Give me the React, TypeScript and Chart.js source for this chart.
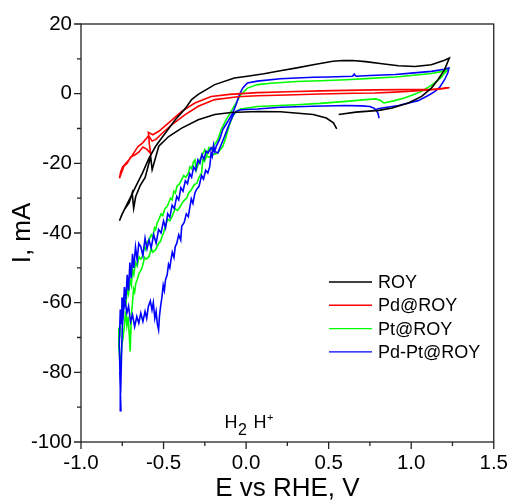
import React, { useEffect, useRef } from "react";
import { Chart, registerables } from "chart.js";
Chart.register(...registerables);

const FONT = "'Liberation Sans', Arial, sans-serif";

const seriesNames = ["ROY", "Pd@ROY", "Pt@ROY", "Pd-Pt@ROY"];
const seriesColors = ["#000000", "#ff0000", "#00ff00", "#0000ff"];

const xTickValues = [-1.0, -0.5, 0.0, 0.5, 1.0, 1.5];
const yTickValues = [-100, -80, -60, -40, -20, 0, 20];

const royE = [0.561, 0.665, 0.804, 0.884, 0.983, 1.063, 1.122, 1.162, 1.202, 1.231,
  1.202, 1.122, 1.023, 0.923, 0.824, 0.724, 0.645, 0.585, 0.526, 0.406, 0.307, 0.207, 0.108, 0.008,
  -0.071, -0.19, -0.29, -0.33, -0.369, -0.429, -0.489, -0.548, -0.588, -0.628, -0.668, -0.708, -0.748, -0.767,
  -0.755, -0.737, -0.708, -0.69, -0.681, -0.669, -0.642, -0.612, -0.578, -0.569, -0.529, -0.469, -0.39,
  -0.29, -0.19, -0.091, 0.068, 0.207, 0.406, 0.486, 0.529, 0.549];
const royI = [-6.0, -5.3, -4.8, -4.1, -2.7, -0.8, 1.6, 4.0, 6.9, 10.2,
  9.6, 8.3, 7.8, 8.0, 8.6, 9.2, 9.5, 9.5, 9.3, 8.3, 7.4, 6.6, 5.7, 5.0,
  4.5, 2.6, -0.2, -1.7, -4.3, -7.5, -11.3, -15.1, -18.5, -22.8, -26.6, -30.5, -34.3, -36.5,
  -35.0, -33.3, -31.3, -28.5, -32.9, -29.6, -26.4, -24.1, -18.1, -21.8, -15.1, -12.3, -9.9,
  -7.5, -6.0, -5.4, -5.1, -5.2, -6.0, -7.0, -8.4, -10.1];

const pdE = [1.231, 1.11, 0.95, 0.78, 0.6, 0.45, 0.25, 0.068, -0.1, -0.211, -0.31, -0.39, -0.469, -0.529,
  -0.565, -0.592, -0.586, -0.578, -0.6, -0.625, -0.65, -0.675, -0.7, -0.72, -0.74, -0.755, -0.767,
  -0.76, -0.748, -0.727, -0.7, -0.68, -0.655, -0.63, -0.61, -0.59, -0.57, -0.548, -0.5, -0.449, -0.369,
  -0.29, -0.19, -0.05, 0.068, 0.25, 0.45, 0.65, 0.78, 0.9, 1.0, 1.11, 1.18, 1.231];
const pdI = [1.7, 1.2, 1.15, 1.1, 0.95, 0.8, 0.55, 0.3, -0.2, -0.8, -2.7, -5.1, -8.4, -10.8,
  -11.8, -11.1, -14.5, -17.2, -16.0, -15.3, -16.8, -17.6, -18.2, -20.0, -20.8, -22.8, -24.3,
  -22.5, -21.0, -19.9, -18.5, -17.0, -15.2, -14.3, -13.2, -12.0, -13.6, -13.2, -11.0, -8.9, -6.0,
  -3.6, -1.7, -0.9, -0.6, -0.4, -0.1, 0.1, 0.2, 0.45, 0.7, 1.1, 1.35, 1.7];

const ptE = [0.834, 0.9, 0.963, 1.02, 1.063, 1.11, 1.142, 1.18, 1.202, 1.222,
  1.19, 1.122, 1.0, 0.903, 0.75, 0.605, 0.45, 0.307, 0.15, 0.068, 0.008, -0.032, -0.061, -0.091, -0.121,
  -0.151, -0.171, -0.19, -0.211, -0.225, -0.24, -0.252, -0.262, -0.27, -0.285, -0.298, -0.315, -0.33,
  -0.348, -0.36, -0.372, -0.385, -0.399, -0.415, -0.43, -0.449, -0.462, -0.475, -0.489, -0.5, -0.509,
  -0.52, -0.529, -0.54, -0.548, -0.565, -0.575, -0.588, -0.605, -0.615, -0.628, -0.64, -0.648, -0.66,
  -0.668, -0.675, -0.682, -0.688, -0.694, -0.698, -0.702, -0.708, -0.715, -0.722, -0.73, -0.738, -0.745,
  -0.752, -0.758, -0.763, -0.77, -0.771,
  -0.765, -0.76, -0.752, -0.745, -0.737, -0.728, -0.72, -0.712, -0.703, -0.695, -0.688, -0.68, -0.67,
  -0.66, -0.648, -0.638, -0.628, -0.618, -0.608, -0.598, -0.588, -0.575, -0.565, -0.555, -0.548, -0.538,
  -0.529, -0.515, -0.505, -0.492, -0.48, -0.469, -0.458, -0.448, -0.438, -0.429, -0.418, -0.405, -0.39,
  -0.378, -0.365, -0.35, -0.34, -0.33, -0.318, -0.31, -0.302, -0.292, -0.28, -0.265, -0.25, -0.238,
  -0.222, -0.2, -0.171, -0.141, -0.121, -0.101, -0.081, -0.061, -0.032, 0.068, 0.307, 0.45, 0.605,
  0.724, 0.784, 0.814, 0.834];
const ptI = [-2.7, -2.0, -1.2, -0.2, 0.7, 2.0, 3.1, 4.6, 5.9, 6.9,
  6.4, 5.8, 5.2, 4.8, 4.4, 4.0, 3.7, 3.5, 3.0, 2.6, 1.6, -0.3, -2.7, -5.1, -7.5,
  -10.3, -13.2, -14.5, -16.1, -15.5, -18.0, -19.5, -19.0, -22.8, -24.0, -25.7, -26.2, -27.5,
  -28.5, -30.0, -30.5, -31.2, -32.4, -33.5, -33.0, -35.3, -36.5, -36.0, -38.1, -40.0, -41.0,
  -42.5, -42.9, -44.0, -44.8, -45.5, -44.5, -46.8, -47.5, -47.0, -49.6, -51.0, -51.5, -53.5,
  -54.4, -57.0, -56.0, -60.1, -63.0, -68.0, -74.0, -69.0, -64.0, -66.5, -62.5, -67.0, -70.0,
  -72.0, -76.0, -78.0, -73.0, -67.1,
  -70.0, -64.5, -61.5, -63.5, -59.0, -60.5, -56.0, -57.5, -53.5, -55.0, -50.5, -52.0, -48.5,
  -49.5, -46.8, -47.5, -46.8, -44.0, -44.8, -42.5, -42.0, -40.5, -41.2, -38.5, -39.0, -37.0,
  -36.2, -34.5, -35.0, -33.0, -32.5, -31.4, -30.0, -30.5, -28.0, -28.5, -26.5, -26.0, -24.7,
  -23.5, -24.0, -22.8, -21.0, -21.5, -19.5, -19.0, -22.0, -20.5, -19.0, -17.5, -16.1, -18.0,
  -18.2, -17.5, -17.0, -15.1, -12.3, -8.9, -6.5, -5.1, -4.4, -3.7, -3.2, -2.8, -2.2,
  -1.7, -1.5, -1.9, -2.7];

const pdptE = [0.79, 0.824, 0.923, 1.042, 1.1, 1.142, 1.172, 1.202, 1.222, 1.228,
  1.2, 1.122, 1.0, 0.903, 0.75, 0.665, 0.655, 0.645, 0.5, 0.406, 0.207, 0.068, 0.008, -0.021,
  -0.041, -0.061, -0.081, -0.111, -0.141, -0.161, -0.18, -0.19, -0.197, -0.205, -0.212, -0.22, -0.232,
  -0.245, -0.258, -0.27, -0.285, -0.3, -0.31, -0.322, -0.332, -0.342, -0.35, -0.362, -0.375, -0.39,
  -0.396, -0.408, -0.42, -0.429, -0.437, -0.447, -0.455, -0.462, -0.47, -0.478, -0.488, -0.495, -0.502,
  -0.51, -0.518, -0.525, -0.53, -0.538, -0.545, -0.553, -0.562, -0.57, -0.58, -0.592, -0.602, -0.612,
  -0.625, -0.638, -0.65, -0.662, -0.675, -0.688, -0.7, -0.712, -0.722, -0.733, -0.742, -0.75, -0.756,
  -0.76, -0.765, -0.758, -0.762, -0.768, -0.762, -0.756, -0.752,
  -0.745, -0.737, -0.728, -0.72, -0.712, -0.704, -0.696, -0.688, -0.68, -0.67, -0.66, -0.65, -0.638,
  -0.625, -0.612, -0.6, -0.588, -0.575, -0.56, -0.545, -0.53, -0.515, -0.5, -0.488, -0.475, -0.462,
  -0.448, -0.435, -0.42, -0.408, -0.395, -0.382, -0.368, -0.355, -0.342, -0.33, -0.318, -0.305, -0.292,
  -0.28, -0.268, -0.255, -0.242, -0.23, -0.212, -0.195, -0.171, -0.15, -0.131, -0.111, -0.091, -0.075,
  -0.061, -0.032, 0.068, 0.207, 0.406, 0.6, 0.7, 0.75, 0.775, 0.79, 0.8, 0.805];
const pdptI = [-4.4, -4.1, -3.4, -2.0, -0.6, 0.6, 1.8, 4.0, 6.0, 7.4,
  7.0, 6.4, 5.9, 5.5, 5.2, 5.0, 5.6, 5.0, 4.8, 4.7, 4.3, 3.6, 3.1, 1.6,
  -0.3, -3.2, -5.5, -8.0, -10.3, -13.2, -15.0, -16.5, -14.8, -18.0, -17.0, -20.9, -22.8,
  -22.0, -24.5, -23.5, -26.6, -27.5, -28.5, -31.5, -30.2, -33.0, -35.3, -34.5, -37.0, -38.1,
  -42.0, -40.5, -43.0, -43.9, -47.0, -45.5, -47.7, -50.0, -49.0, -52.0, -53.4, -56.5, -55.0,
  -58.5, -61.1, -64.0, -67.8, -66.0, -62.5, -64.5, -60.0, -62.1, -59.5, -61.1, -64.5, -62.5,
  -65.4, -63.0, -65.9, -64.0, -66.9, -63.5, -65.5, -61.0, -63.0, -59.5, -62.0, -67.0, -78.0,
  -86.0, -80.0, -91.0, -84.0, -72.0, -62.0, -66.0, -58.5,
  -62.0, -55.5, -59.0, -52.0, -56.5, -48.5, -53.0, -46.0, -50.0, -44.0, -47.7, -43.0, -43.9,
  -46.5, -41.5, -44.5, -42.0, -44.3, -40.5, -42.9, -39.0, -40.0, -36.5, -38.5, -34.5, -35.5,
  -32.0, -33.0, -29.5, -30.5, -27.0, -28.0, -25.0, -25.8, -23.0, -24.0, -21.0, -22.0, -19.0,
  -20.0, -17.5, -18.8, -16.5, -17.0, -15.5, -16.5, -17.0, -14.5, -12.3, -9.8, -7.5, -5.8,
  -5.1, -4.6, -4.4, -3.9, -3.6, -3.4, -3.5, -3.7, -4.2, -4.8, -5.8, -7.0];

function toPoints(e: number[], i: number[]) {
  return e.map((x, k) => ({ x, y: i[k] }));
}

const decorPlugin = {
  id: "decor",
  afterDraw(chart: any) {
    const ctx = chart.ctx;
    const { left, right, top, bottom } = chart.chartArea;
    const xs = chart.scales.x;
    const ys = chart.scales.y;
    ctx.save();
    ctx.strokeStyle = "#222";
    ctx.lineWidth = 1.3;
    ctx.strokeRect(left, top, right - left, bottom - top);
    ctx.beginPath();
    for (let k = 0; k <= 10; k++) {
      const v = xs.min + k * 0.25;
      const px = xs.getPixelForValue(v);
      const len = k % 2 === 0 ? 7 : 4;
      ctx.moveTo(px, bottom);
      ctx.lineTo(px, bottom + len);
    }
    for (let k = 0; k <= 12; k++) {
      const v = ys.min + k * 10;
      const py = ys.getPixelForValue(v);
      const len = k % 2 === 0 ? 7 : 4;
      ctx.moveTo(left, py);
      ctx.lineTo(left - len, py);
    }
    ctx.stroke();

    // legend
    const lx = left + 248;
    const ly = top + 258;
    ctx.font = `18px ${FONT}`;
    ctx.textBaseline = "middle";
    ctx.textAlign = "left";
    seriesNames.forEach((name, k) => {
      const y = ly + k * 23.3;
      ctx.strokeStyle = seriesColors[k];
      ctx.lineWidth = 1.4;
      ctx.beginPath();
      ctx.moveTo(lx, y);
      ctx.lineTo(lx + 43, y);
      ctx.stroke();
      ctx.fillStyle = "#000";
      ctx.fillText(name, lx + 49, y + 1);
    });

    // H2 H+ annotation
    ctx.fillStyle = "#000";
    ctx.textBaseline = "alphabetic";
    const bx = left + 143.5;
    const by = bottom - 14;
    ctx.font = `18px ${FONT}`;
    ctx.fillText("H", bx, by);
    let w = ctx.measureText("H").width;
    ctx.font = `16px ${FONT}`;
    ctx.fillText("2", bx + w + 0.5, by + 6.5);
    const w2 = ctx.measureText("2").width;
    ctx.font = `18px ${FONT}`;
    const hx = bx + w + w2 + 7;
    ctx.fillText("H", hx, by);
    w = ctx.measureText("H").width;
    ctx.font = `11px ${FONT}`;
    ctx.fillText("+", hx + w + 0.5, by - 7);
    ctx.restore();
  },
};

export default function App() {
  const ref = useRef<HTMLCanvasElement>(null);
  useEffect(() => {
    if (!ref.current) return;
    const order = [0, 1, 3, 2];
    const data = [toPoints(royE, royI), toPoints(pdE, pdI), toPoints(ptE, ptI), toPoints(pdptE, pdptI)];
    const chart = new Chart(ref.current, {
      type: "scatter",
      data: {
        datasets: data.map((d, k) => ({
          label: seriesNames[k],
          data: d,
          showLine: true,
          borderColor: seriesColors[k],
          backgroundColor: seriesColors[k],
          borderWidth: 1.6,
          pointRadius: 0,
          tension: 0,
          order: order[k],
        })),
      },
      options: {
        animation: false,
        responsive: false,
        maintainAspectRatio: false,
        layout: { padding: { top: 24, right: 17, left: 0, bottom: 0 } },
        plugins: { legend: { display: false }, tooltip: { enabled: false } },
        scales: {
          x: {
            type: "linear",
            min: -1,
            max: 1.5,
            afterFit: (s: any) => { s.height = 60; },
            afterBuildTicks: (s: any) => { s.ticks = xTickValues.map((v) => ({ value: v })); },
            grid: { display: false, drawTicks: false },
            border: { display: false },
            ticks: {
              padding: 9,
              color: "#000",
              maxRotation: 0,
              autoSkip: false,
              font: { family: FONT, size: 20.5 },
              callback: (v: any) => Number(v).toFixed(1),
            },
            title: {
              display: true,
              text: "E vs RHE, V",
              color: "#000",
              font: { family: FONT, size: 26, lineHeight: 1 },
              padding: { top: 0, bottom: 0 },
            },
          },
          y: {
            type: "linear",
            min: -100,
            max: 20,
            afterFit: (s: any) => { s.width = 81; },
            afterBuildTicks: (s: any) => { s.ticks = yTickValues.map((v) => ({ value: v })); },
            grid: { display: false, drawTicks: false },
            border: { display: false },
            ticks: {
              padding: 9,
              color: "#000",
              autoSkip: false,
              font: { family: FONT, size: 20.5 },
              callback: (v: any) => String(v),
            },
            title: {
              display: true,
              text: "I, mA",
              color: "#000",
              font: { family: FONT, size: 26, lineHeight: 1 },
              padding: { top: 10, bottom: 0 },
            },
          },
        },
      },
      plugins: [decorPlugin],
    });
    return () => chart.destroy();
  }, []);
  return (
    <div style={{ position: "fixed", left: 0, top: 0, width: 517, height: 502, background: "#fff" }}>
      <canvas ref={ref} width={517} height={502} style={{ display: "block" }} />
    </div>
  );
}
